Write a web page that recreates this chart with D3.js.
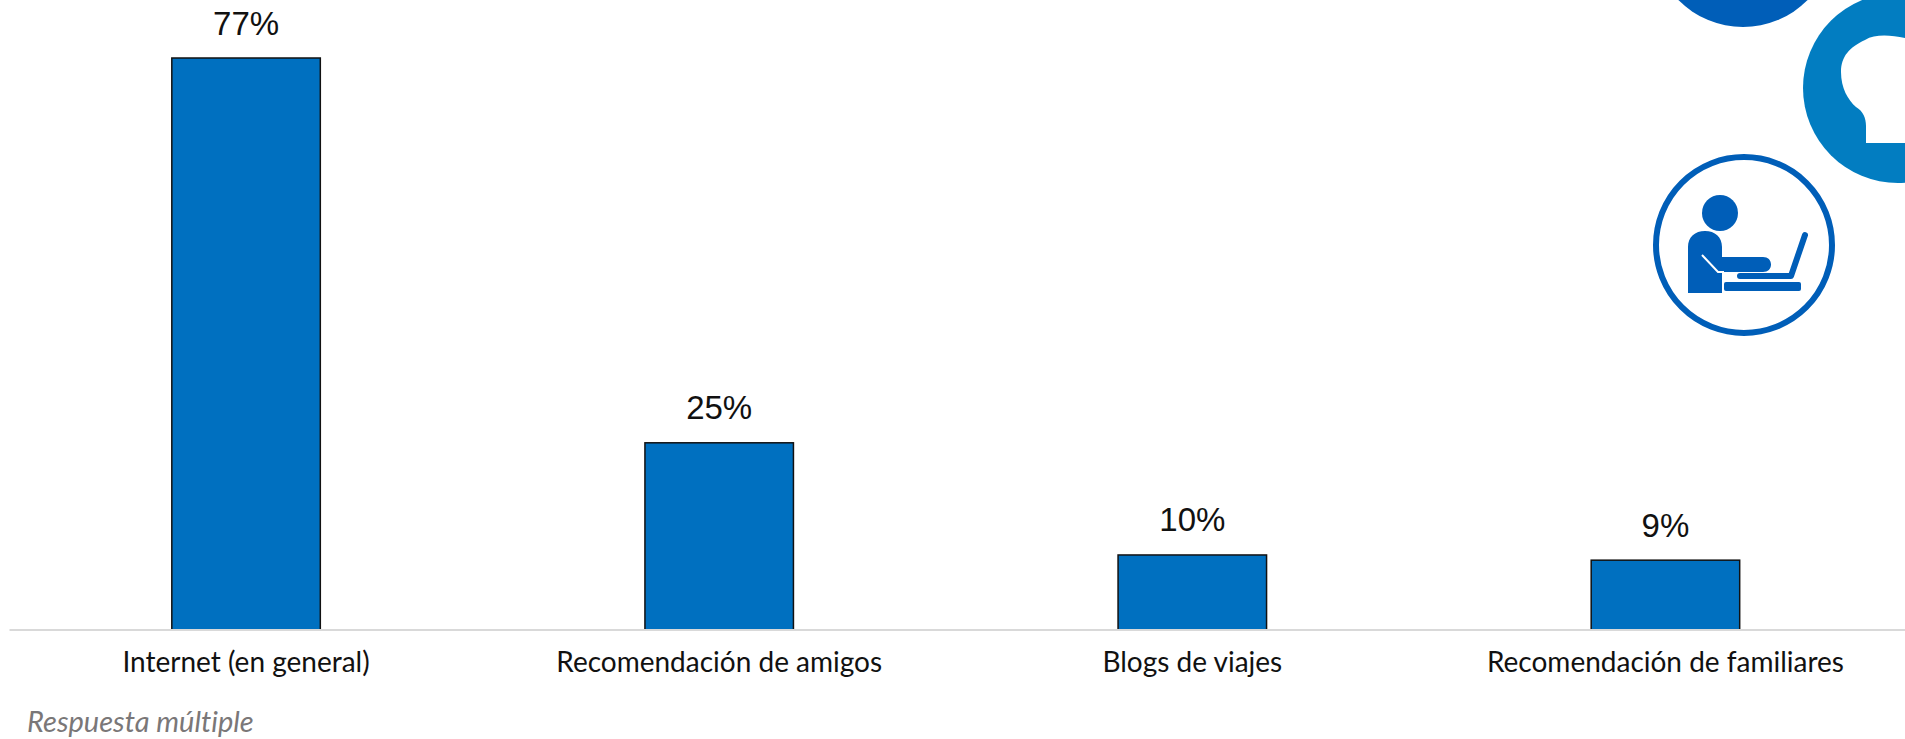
<!DOCTYPE html>
<html>
<head>
<meta charset="utf-8">
<script src="https://cdn.jsdelivr.net/npm/d3@7"></script>
<style>
  html, body { margin: 0; padding: 0; background: #fff; overflow: hidden; }
  .catLabel { font-family: Lato, sans-serif; font-size: 28px; fill: #111; text-anchor: middle; font-variant-ligatures: none; }
  .valueLabel { font-family: "Liberation Sans", Arial, sans-serif; font-size: 33px; fill: #111; text-anchor: middle; }
  .note { font-family: Lato, sans-serif; font-size: 29px; font-style: italic; fill: #7a7778; font-variant-ligatures: none; }
</style>
</head>
<body>
<div id="wrapper"></div>
<script>
'use strict';
// values, labels are the rounded percentages
const categories = ['Internet (en general)', 'Recomendación de amigos', 'Blogs de viajes', 'Recomendación de familiares'];
const values = [77, 25.2, 10.1, 9.4];
const valueLabels = ['77%', '25%', '10%', '9%'];
const note = 'Respuesta múltiple';

const dimensions = {
  width: 1905,
  height: 739,
  left: 9.5,
  right: 1902,
  baseline: 630,
  top: 58
};

const wrapper = d3.select('#wrapper')
  .append('svg')
  .attr('width', dimensions.width)
  .attr('height', dimensions.height);

//#region SCALES
const xScale = d3.scaleBand()
  .domain(categories)
  .range([dimensions.left, dimensions.right])
  .paddingInner(0.684)
  .paddingOuter(0.342);
const yScale = d3.scaleLinear()
  .domain([0, 77])
  .range([dimensions.baseline, dimensions.top]);
//#endregion SCALES

//#region DRAW DATA
const rows = d3.zip(categories, values, valueLabels);

wrapper.selectAll('rect.bar').data(rows).join('rect')
  .attr('class', 'bar')
  .attr('x', d => xScale(d[0]) + 0.5)
  .attr('y', d => yScale(d[1]))
  .attr('width', xScale.bandwidth() - 1)
  .attr('height', d => yScale(0) - yScale(d[1]))
  .attr('fill', '#0070c0')
  .attr('stroke', '#111')
  .attr('stroke-width', 1.5);

// the axis line sits over the bottom edge of the bars
wrapper.append('line')
  .attr('x1', dimensions.left)
  .attr('x2', dimensions.width)
  .attr('y1', dimensions.baseline)
  .attr('y2', dimensions.baseline)
  .attr('stroke', '#d9d9d9')
  .attr('stroke-width', 2);

wrapper.selectAll('text.valueLabel').data(rows).join('text')
  .attr('class', 'valueLabel')
  .attr('x', d => xScale(d[0]) + xScale.bandwidth() / 2)
  .attr('y', d => yScale(d[1]) - 23.5)
  .text(d => d[2]);
//#endregion DRAW DATA

//#region DRAW PERIPHERALS
const xAxis = wrapper.append('g')
  .attr('transform', `translate(0, ${dimensions.baseline})`)
  .call(d3.axisBottom(xScale).tickSize(0).tickPadding(0));
xAxis.select('.domain').remove();
xAxis.attr('font-family', null).attr('font-size', null);
xAxis.selectAll('text')
  .attr('class', 'catLabel')
  .attr('y', 42)
  .attr('dy', null);

wrapper.append('text')
  .attr('class', 'note')
  .attr('x', 27)
  .attr('y', 732)
  .text(note);
//#endregion DRAW PERIPHERALS

//#region ICONS
const iconBlue = '#005eb8';
wrapper.append('circle')
  .attr('cx', 1743).attr('cy', -64).attr('r', 91)
  .attr('fill', iconBlue);

wrapper.append('circle')
  .attr('cx', 1898).attr('cy', 88).attr('r', 95)
  .attr('fill', '#027dc1');
wrapper.append('path')
  .attr('d', 'M1905,38 C1890,35 1875,34 1865,40 C1850,47 1841,56 1841,72 C1841,88 1848,100 1856,107 C1863,111 1866,118 1866,126 L1866,143 L1905,143 Z')
  .attr('fill', '#fff');

wrapper.append('circle')
  .attr('cx', 1744).attr('cy', 245).attr('r', 88)
  .attr('fill', 'none')
  .attr('stroke', iconBlue)
  .attr('stroke-width', 6);

const person = wrapper.append('g').attr('fill', iconBlue);
person.append('circle').attr('cx', 1720).attr('cy', 213).attr('r', 18);
person.append('path')
  .attr('d', 'M1688,293 L1688,247 C1688,237 1695,231 1705,231 C1715,231 1722,237 1722,247 L1722,257 L1763,257 C1768,257 1771,260 1771,264.5 C1771,269 1768,272 1763,272 L1722,272 L1722,293 Z');
person.append('path')
  .attr('d', 'M1702,255 L1718,272 L1724,272')
  .attr('stroke', '#fff').attr('stroke-width', 2).attr('fill', 'none');
person.append('path')
  .attr('d', 'M1740,276 L1791,276 L1805,235')
  .attr('stroke', iconBlue).attr('stroke-width', 6)
  .attr('stroke-linecap', 'round').attr('stroke-linejoin', 'round').attr('fill', 'none');
person.append('rect')
  .attr('x', 1724).attr('y', 282).attr('width', 77).attr('height', 9).attr('rx', 2);
//#endregion ICONS
</script>
</body>
</html>
